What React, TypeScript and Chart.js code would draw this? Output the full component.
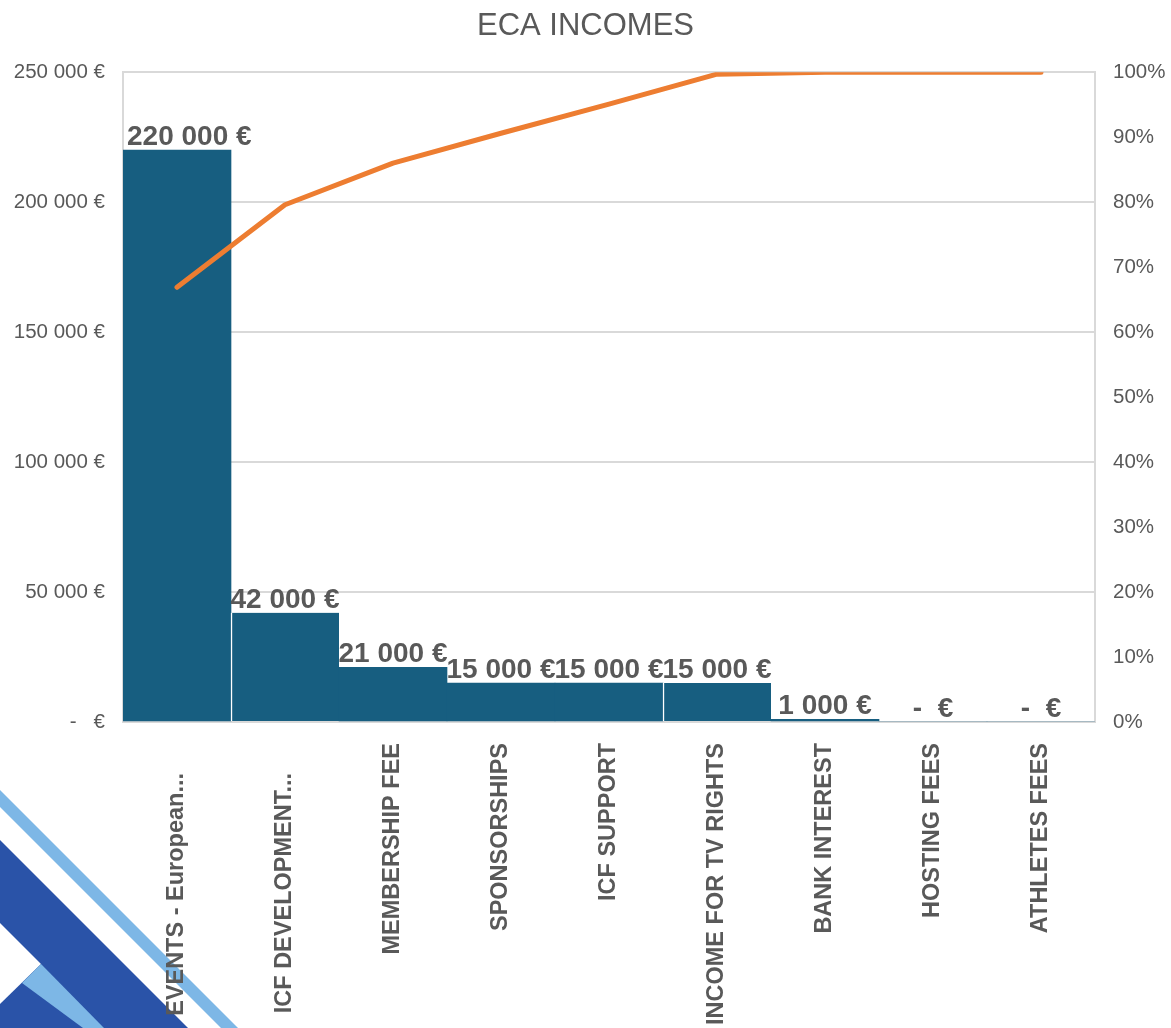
import React, { useEffect, useRef } from "react";
import { Chart, registerables } from "chart.js";

Chart.register(...registerables);

const categories = [
  "EVENTS - European...",
  "ICF DEVELOPMENT...",
  "MEMBERSHIP FEE",
  "SPONSORSHIPS",
  "ICF SUPPORT",
  "INCOME FOR TV RIGHTS",
  "BANK INTEREST",
  "HOSTING FEES",
  "ATHLETES FEES",
];
const incomes = [220000, 42000, 21000, 15000, 15000, 15000, 1000, 0, 0];
const cumulativePct = [66.9, 79.6, 86.0, 90.6, 95.1, 99.7, 100, 100, 100];
const leftTicks = [0, 50000, 100000, 150000, 200000, 250000];
const rightTicks = [0, 10, 20, 30, 40, 50, 60, 70, 80, 90, 100];

const W = 1171;
const H = 1160;
const GREY = "#595959";
const GRID = "#D9D9D9";
const FONT = "'Liberation Sans', Arial, sans-serif";

function euro(v: number): string {
  if (v === 0) return "-   €";
  return String(v).replace(/\B(?=(\d{3})+(?!\d))/g, " ") + " €";
}

const barLabels = {
  id: "barLabels",
  afterDatasetsDraw(chart: any) {
    const meta = chart.getDatasetMeta(1);
    const ctx = chart.ctx;
    const area = chart.chartArea;
    ctx.save();
    ctx.font = `bold 28px ${FONT}`;
    ctx.fillStyle = GREY;
    ctx.textAlign = "left";
    ctx.textBaseline = "alphabetic";
    meta.data.forEach((el: any, i: number) => {
      const v = incomes[i];
      const txt = v === 0 ? "-  €" : euro(v);
      const w = ctx.measureText(txt).width;
      const left = Math.max(el.x - w / 2, area.left + 4);
      ctx.fillText(txt, left, el.y - 5);
    });
    ctx.restore();
  },
};

const xLabels = {
  id: "xLabels",
  afterDraw(chart: any) {
    const xs = chart.scales.x;
    const ctx = chart.ctx;
    const top = chart.chartArea.bottom;
    ctx.save();
    ctx.font = `bold 23.5px ${FONT}`;
    ctx.fillStyle = GREY;
    ctx.textAlign = "right";
    ctx.textBaseline = "middle";
    categories.forEach((lab, i) => {
      const x = xs.getPixelForValue(i);
      const truncated = lab.endsWith("...");
      const y = top + (truncated ? 51 : 21);
      ctx.save();
      ctx.translate(x, y);
      ctx.rotate(-Math.PI / 2);
      ctx.fillText(lab, 0, 0);
      ctx.restore();
    });
    ctx.restore();
  },
};

export default function App() {
  const ref = useRef<HTMLCanvasElement>(null);
  useEffect(() => {
    if (!ref.current) return;
    const chart = new Chart(ref.current, {
      type: "bar",
      data: {
        labels: categories,
        datasets: [
          {
            type: "line",
            label: "Cumulative",
            data: cumulativePct,
            yAxisID: "y1",
            borderColor: "#ED7D31",
            borderWidth: 5,
            pointRadius: 0,
            borderCapStyle: "round",
            borderJoinStyle: "round",
            tension: 0,
            order: 0,
          } as any,
          {
            type: "bar",
            label: "Incomes",
            data: incomes,
            yAxisID: "y",
            backgroundColor: "#175E80",
            borderColor: "#FFFFFF",
            borderWidth: (c: any) =>
              c.dataIndex === 1 || c.dataIndex === 5 ? { left: 1.5, top: 0, right: 0, bottom: 0 } : 0,
            borderSkipped: false,
            categoryPercentage: 1,
            barPercentage: 1,
            order: 1,
          } as any,
        ],
      },
      options: {
        responsive: false,
        animation: false,
        layout: { padding: 0 },
        plugins: {
          legend: { display: false },
          tooltip: { enabled: false },
          title: {
            display: true,
            text: "ECA INCOMES",
            color: GREY,
            font: { family: FONT, size: 31, weight: "normal" },
            padding: { top: 8, bottom: 27 },
          },
        },
        scales: {
          x: {
            grid: { display: false, drawTicks: false },
            border: { display: true, color: GRID, width: 2 },
            ticks: { display: false },
            afterFit: (s: any) => {
              s.height = H - 722;
            },
          },
          y: {
            position: "left",
            min: 0,
            max: 250000,
            afterBuildTicks: (s: any) => {
              s.ticks = leftTicks.map((v) => ({ value: v }));
            },
            grid: { color: GRID, lineWidth: 2, drawTicks: false },
            border: { display: true, color: GRID, width: 2 },
            ticks: {
              padding: 18,
              color: GREY,
              font: { family: FONT, size: 20.5 },
              callback: (v: any) => euro(Number(v)),
            },
            afterFit: (s: any) => {
              s.width = 123;
            },
          },
          y1: {
            position: "right",
            min: 0,
            max: 100,
            afterBuildTicks: (s: any) => {
              s.ticks = rightTicks.map((v) => ({ value: v }));
            },
            grid: { display: false, drawTicks: false },
            border: { display: true, color: GRID, width: 2 },
            ticks: {
              padding: 18,
              color: GREY,
              font: { family: FONT, size: 20.5 },
              callback: (v: any) => `${v}%`,
            },
            afterFit: (s: any) => {
              s.width = W - 1095;
            },
          },
        },
      },
      plugins: [barLabels, xLabels],
    });
    return () => chart.destroy();
  }, []);

  return (
    <div
      style={{
        position: "fixed",
        left: 0,
        top: 0,
        width: W,
        height: 1028,
        overflow: "hidden",
        background: "#fff",
      }}
    >
      <svg
        width={W}
        height={1028}
        style={{ position: "absolute", left: 0, top: 0 }}
      >
        <polygon points="0,790 238,1028 221,1028 0,807" fill="#7DB7E6" />
        <polygon points="0,840 188,1028 0,1028" fill="#2A53A8" />
        <polygon points="0,923 41,964 0,1004" fill="#FFFFFF" />
        <polygon points="41,964 104,1028 83,1028 22,983" fill="#7DB7E6" />
      </svg>
      <canvas
        ref={ref}
        width={W}
        height={H}
        style={{ position: "absolute", left: 0, top: 0, width: W, height: H }}
      />
    </div>
  );
}
